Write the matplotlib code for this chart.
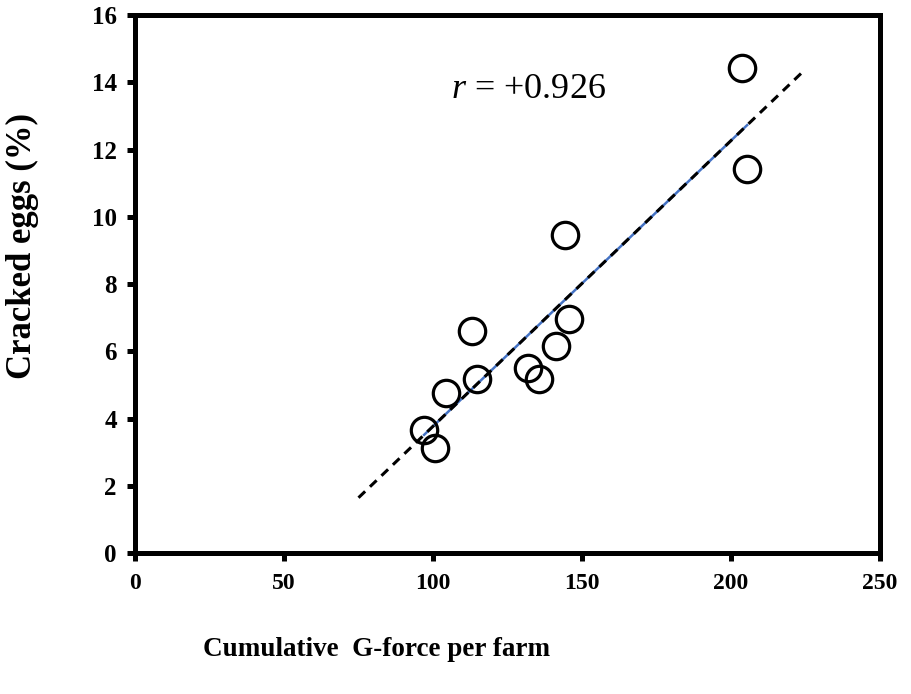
import numpy as np
import matplotlib
matplotlib.use("Agg")
import matplotlib.pyplot as plt

# cumulative G-force per farm vs cracked eggs (%)
g_force = [203.7, 205.4, 144.3, 113.0, 145.6, 141.2, 132.0, 135.4, 114.6, 104.3, 97.0, 100.7]
cracked = [14.43, 11.43, 9.46, 6.60, 6.95, 6.17, 5.52, 5.18, 5.17, 4.75, 3.66, 3.12]
x_ticks = [0, 50, 100, 150, 200, 250]
y_ticks = [0, 2, 4, 6, 8, 10, 12, 14, 16]
r_label = "$r$ = +0.926"

plt.rcParams['font.family'] = 'Liberation Serif'
plt.rcParams['mathtext.fontset'] = 'custom'
plt.rcParams['mathtext.it'] = 'Liberation Serif:italic'
plt.rcParams['mathtext.rm'] = 'Liberation Serif'

fig = plt.figure(figsize=(9.12, 6.94), dpi=100)
ax = fig.add_axes([0.148, 0.203, 0.817, 0.775])

# trend line (least squares)
k, b = np.polyfit(g_force, cracked, 1)
xs = np.array([min(g_force), max(g_force)])
ax.plot(xs, k * xs + b, color='#4472c4', lw=1.8, zorder=2)
xl = np.array([75, 225])
ax.plot(xl, k * xl + b, color='black', lw=2.2, ls=(0, (3, 2.2)), zorder=3)

ax.plot(g_force, cracked, 'o', mfc='none', mec='black', ms=19, mew=2.3, zorder=4)

ax.text(106, 13.8, r_label, fontsize=26, ha='left', va='center')

ax.set_xlim(0, 250)
ax.set_ylim(0, 16)
ax.set_xticks(x_ticks)
ax.set_yticks(y_ticks)
for sp in ax.spines.values():
    sp.set_linewidth(3.6)
ax.tick_params(direction='out', length=6, width=3.6)
ax.tick_params(axis='x', pad=8, labelsize=17)
ax.tick_params(axis='y', pad=7, labelsize=18)
for lab in ax.get_xticklabels() + ax.get_yticklabels():
    lab.set_fontweight('bold')

fig.text(377 / 912, 1 - 650 / 694, "Cumulative  G-force per farm", fontsize=19.5,
         fontweight='bold', ha='center', va='center')
fig.text(22 / 912, 1 - 246 / 694, "Cracked eggs (%)", fontsize=25,
         fontweight='bold', ha='center', va='center', rotation=90)

fig.savefig('out.png', dpi=100)
